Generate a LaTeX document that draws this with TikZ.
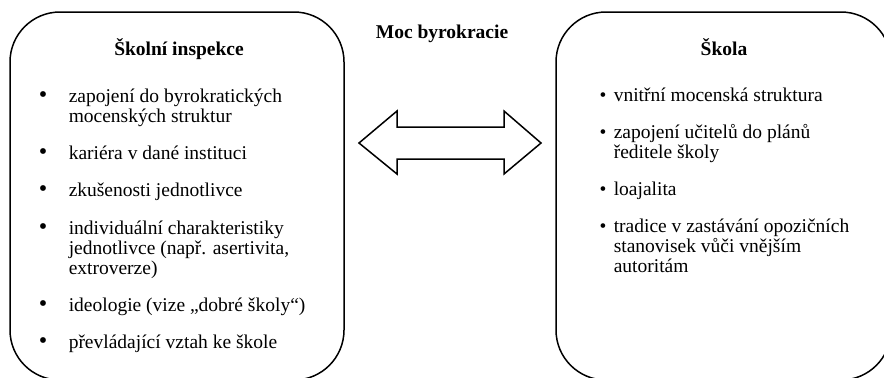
\documentclass[tikz,border=0pt]{standalone}
\usepackage{fontspec}
\setmainfont{Liberation Serif}

\newcommand{\itemlines}[1]{\begin{tabular}[t]{@{}l@{}}#1\end{tabular}}

\tikzset{
    txt/.style={inner sep=0pt, anchor=base west,
        font=\fontsize{11.7}{12}\selectfont},
    dot/.style={inner sep=0pt, anchor=base,
        font=\fontsize{11.7}{12}\selectfont},
    bigdot/.style={inner sep=0pt, anchor=base,
        font=\fontsize{14.5}{12}\selectfont},
    heading/.style={inner sep=0pt, anchor=base,
        font=\fontsize{11.7}{12}\selectfont\bfseries}
}

\begin{document}
\begin{tikzpicture}[x=0.6pt,y=-0.6pt,line width=0.9pt]
    \useasboundingbox (0,0) rectangle (884,377);
    \clip (0,0) rectangle (884,377);

    % Boxes
    \draw[rounded corners=30pt] (10,12) rectangle (344,380);
    \draw[rounded corners=30pt] (556,12) rectangle (891,380);

    % Double arrow
    \draw[line join=miter] (359,143) -- (397,111) -- (397,127) -- (504,127)
        -- (504,111) -- (541,143) -- (504,174) -- (504,159) -- (397,159)
        -- (397,174) -- cycle;

    % Headings
    \node[heading] (moc) at (442,38) {Moc byrokracie};
    \node[heading] (inspekce) at (179,55) {Školní inspekce};
    \node[heading] (skola) at (724,55) {Škola};

    % Left list
    \node[bigdot] (ld1) at (43,102) {\textbullet};
    \node[txt] (li1) at (68,102) {\itemlines{zapojení do byrokratických\\mocenských struktur}};
    \node[bigdot] (ld2) at (43,159) {\textbullet};
    \node[txt] (li2) at (68,159) {kariéra v dané instituci};
    \node[bigdot] (ld3) at (43,196) {\textbullet};
    \node[txt] (li3) at (68,196) {zkušenosti jednotlivce};
    \node[bigdot] (ld4) at (43,234) {\textbullet};
    \node[txt] (li4) at (68,234) {\itemlines{individuální charakteristiky\\jednotlivce (např. asertivita,\\extroverze)}};
    \node[bigdot] (ld5) at (43,311) {\textbullet};
    \node[txt] (li5) at (68,311) {ideologie (vize „dobré školy“)};
    \node[bigdot] (ld6) at (43,348) {\textbullet};
    \node[txt] (li6) at (68,348) {převládající vztah ke škole};

    % Right list
    \node[dot] (rd1) at (603,101) {\textbullet};
    \node[txt] (ri1) at (613,101) {vnitřní mocenská struktura};
    \node[dot] (rd2) at (603,138) {\textbullet};
    \node[txt] (ri2) at (613,138) {\itemlines{zapojení učitelů do plánů\\ředitele školy}};
    \node[dot] (rd3) at (603,195) {\textbullet};
    \node[txt] (ri3) at (613,195) {loajalita};
    \node[dot] (rd4) at (603,232) {\textbullet};
    \node[txt] (ri4) at (613,232) {\itemlines{tradice v zastávání opozičních\\stanovisek vůči vnějším\\autoritám}};
\end{tikzpicture}
\end{document}
